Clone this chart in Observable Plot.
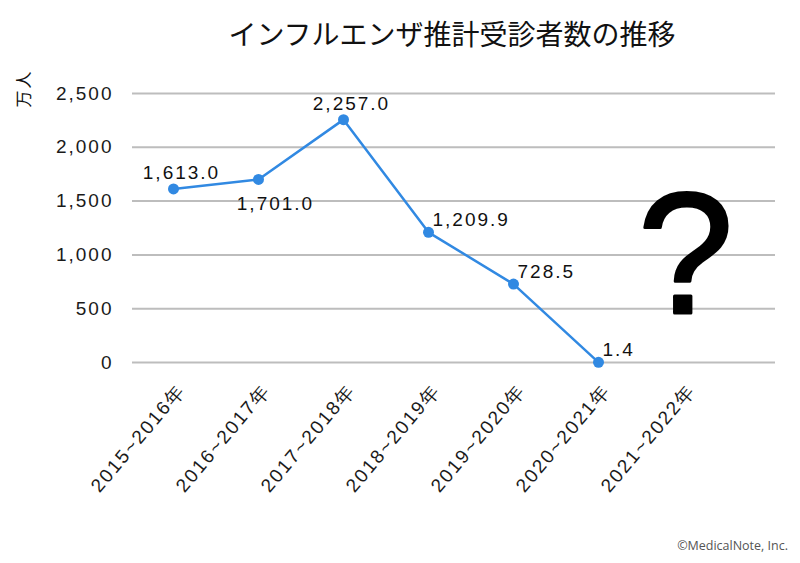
<!DOCTYPE html>
<html>
<head>
<meta charset="utf-8">
<script src="https://cdn.jsdelivr.net/npm/d3@7"></script>
<script src="https://cdn.jsdelivr.net/npm/@observablehq/plot@0.6"></script>
<style>
  html, body { margin: 0; padding: 0; background: #fff; }
  #wrap { position: relative; width: 800px; height: 563px; overflow: hidden; }
  #title { position: absolute; left: 0; width: 904px; top: 13px; text-align: center;
    font-family: "Noto Sans CJK JP", sans-serif; font-size: 28px; color: #111; }
  #caption { position: absolute; right: 12px; top: 537px; font-family: "Open Sans", sans-serif;
    font-size: 12.5px; color: #555; }
  #chart { position: absolute; left: 0; top: 0; }
</style>
</head>
<body>
<div id="wrap">
  <div id="chart"></div>
  <div id="title">インフルエンザ推計受診者数の推移</div>
  <div id="caption">©MedicalNote, Inc.</div>
</div>
<script>
const seasons = ["2015~2016年", "2016~2017年", "2017~2018年", "2018~2019年", "2019~2020年", "2020~2021年", "2021~2022年"];
const patients = [1613.0, 1701.0, 2257.0, 1209.9, 728.5, 1.4];
const yTicks = [0, 500, 1000, 1500, 2000, 2500];
const unitLabel = "万人";
const unknownMark = "?";

const data = patients.map((v, i) => ({season: seasons[i], value: v, i}));
const fmt = d3.format(",.1f");
const blue = "#3189e2";
const font = "Liberation Sans, Arial, sans-serif";

const above = data.filter(d => d.i === 0 || d.i === 2);
const below = data.filter(d => d.i === 1);
const right = data.filter(d => d.i >= 3);

const chart = Plot.plot({
  width: 800,
  height: 563,
  marginLeft: 132,
  marginRight: 25,
  marginTop: 93,
  marginBottom: 201,
  style: {fontFamily: font, fontSize: "19px", color: "#1a1a1a", background: "transparent", letterSpacing: "2px"},
  x: {type: "point", domain: seasons, range: [173, 683], padding: 0},
  y: {domain: [0, 2500], ticks: yTicks},
  marks: [
    Plot.ruleY(yTicks, {stroke: "#bdbdbd", strokeWidth: 2}),
    Plot.axisY({ticks: yTicks, tickSize: 0, tickPadding: 19, tickFormat: d3.format(","), label: null, fontSize: 19}),
    Plot.axisX({tickSize: 0, tickRotate: -50, tickPadding: 24, dx: 8, label: null, fontSize: 19, fontFamily: font}),
    Plot.line(data, {x: "season", y: "value", stroke: blue, strokeWidth: 2.5}),
    Plot.dot(data, {x: "season", y: "value", fill: blue, r: 5.5}),
    Plot.text(above, {x: "season", y: "value", text: d => fmt(d.value), dx: 8, dy: -16, fontSize: 19, fill: "#111"}),
    Plot.text(below, {x: "season", y: "value", text: d => fmt(d.value), dx: 17, dy: 24, fontSize: 19, fill: "#111"}),
    Plot.text(right, {x: "season", y: "value", text: d => fmt(d.value), dx: 4, dy: -12, textAnchor: "start", fontSize: 19, fill: "#111"}),
    Plot.text([unknownMark], {x: () => seasons[6], y: () => 975, dx: 3, text: d => d, fontSize: 172, fontWeight: "normal", fontFamily: "Liberation Sans, Arial, sans-serif", fill: "#000", stroke: "#000", strokeWidth: 3, strokeLinejoin: "round", letterSpacing: "0px"}),
    Plot.text([unitLabel], {frameAnchor: "top-left", dx: -115, dy: 14, rotate: -90, text: d => d, fontSize: 17, fontFamily: "Noto Sans CJK JP, sans-serif", fill: "#111", letterSpacing: "0px"})
  ]
});
document.getElementById("chart").appendChild(chart);
</script>
</body>
</html>
